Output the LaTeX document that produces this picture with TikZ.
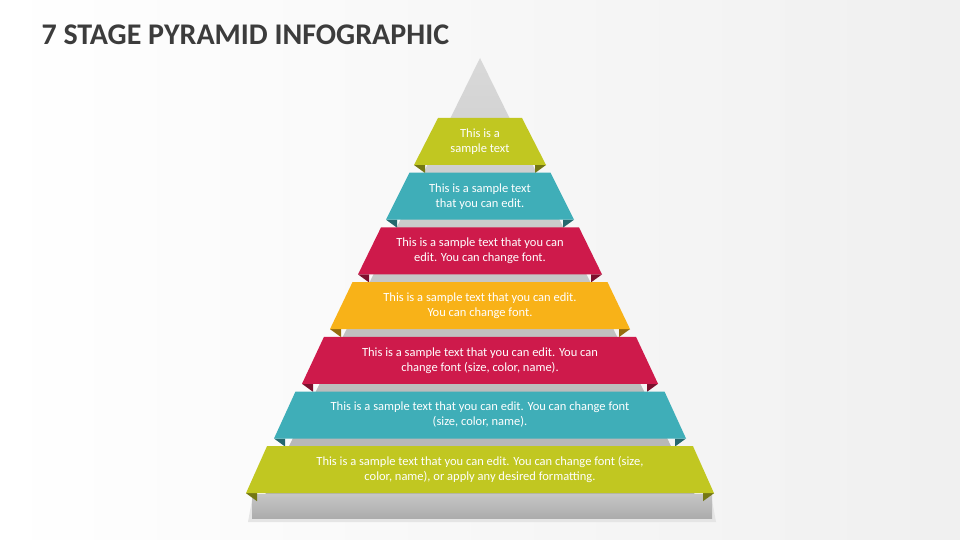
\documentclass[tikz,border=0pt]{standalone}
\usepackage{fontspec}
\setmainfont{Carlito}
\usepackage{tikz}

\definecolor{lime}{HTML}{C1C721}
\definecolor{teal}{HTML}{3FAEB8}
\definecolor{crimson}{HTML}{CE1A4B}
\definecolor{amber}{HTML}{F8B218}
\definecolor{titlegray}{HTML}{3C3C3C}

\tikzset{
  bandtext/.style={text=white, align=center, font=\fontsize{12.5}{15}\selectfont},
}

\begin{document}
\begin{tikzpicture}[x=1pt,y=-1pt]
    % Background
    \shade[left color=white, right color=gray!12] (0,0) rectangle (960,540);
    \useasboundingbox (0,0) rectangle (960,540);

    % Title
    \node[anchor=west, text=titlegray, font=\fontsize{30}{34}\bfseries\selectfont] (title) at (38,35) {7 STAGE PYRAMID INFOGRAPHIC};

    % Grey pyramid body and base
    \shade[top color=gray!30, bottom color=gray!60] (480,58) -- (700,505) -- (260,505) -- cycle;
    \fill[gray!20] (252,500) -- (712,500) -- (716,522) -- (248,522) -- cycle;
    \shade[top color=gray!45, bottom color=gray!65] (252,494) rectangle (712,518);

    % Bands: index / colour / text
    \foreach \i/\col/\txt in {
        0/lime/{This is a\\sample text},
        1/teal/{This is a sample text\\that you can edit.},
        2/crimson/{This is a sample text that you can\\edit. You can change font.},
        3/amber/{This is a sample text that you can edit.\\You can change font.},
        4/crimson/{This is a sample text that you can edit. You can\\change font (size, color, name).},
        5/teal/{This is a sample text that you can edit. You can change font\\(size, color, name).},
        6/lime/{This is a sample text that you can edit. You can change font (size,\\color, name), or apply any desired formatting.}} {
        \pgfmathsetmacro{\ytop}{118+54.7*\i}
        \pgfmathsetmacro{\ybot}{\ytop+47}
        \pgfmathsetmacro{\wtop}{42+28.5*\i}
        \pgfmathsetmacro{\wbot}{66+28*\i}
        % folded tails
        \fill[\col!60!black] (480-\wbot,\ybot) -- (480-\wbot+11,\ybot+8) -- (480-\wbot+11,\ybot) -- cycle;
        \fill[\col!60!black] (480+\wbot,\ybot) -- (480+\wbot-11,\ybot+8) -- (480+\wbot-11,\ybot) -- cycle;
        % band
        \fill[\col] (480-\wtop,\ytop) -- (480+\wtop,\ytop) -- (480+\wbot,\ybot) -- (480-\wbot,\ybot) -- cycle;
        \node[bandtext] (band\i) at (480,\ytop+23.5) {\txt};
    }
\end{tikzpicture}
\end{document}
